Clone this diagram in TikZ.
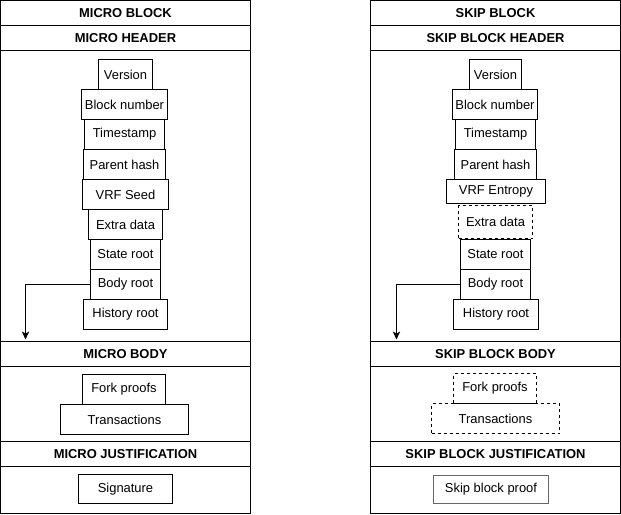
\documentclass[tikz,border=0pt]{standalone}
\usepackage{fontspec}
\setmainfont{Liberation Sans}
\usetikzlibrary{arrows.meta}
\newcommand\pxu{0.75pt}

\begin{document}
\begin{tikzpicture}[x=0.75pt,y=-0.75pt,line width=0.75pt,
  font=\fontsize{9.7}{11}\selectfont,
  band/.style={draw,inner sep=0pt,minimum width=250*\pxu},
  bandtitle/.style={band,minimum height=25*\pxu,font=\fontsize{9.7}{11}\selectfont\bfseries},
  field/.style={draw,inner sep=0pt,minimum height=30*\pxu},
  optfield/.style={field,dash pattern=on 2.25pt off 2.25pt},
  arrow/.style={-{Stealth[length=6pt,width=5.5pt,inset=1.5pt]}}]
  \useasboundingbox (-0.5,-0.5) rectangle (620.5,513.5);

  % micro block
  \node[bandtitle] (mtitle) at (125,12.5) {MICRO BLOCK};
  \node[bandtitle] (mhead) at (125,37.5) {MICRO HEADER};
  \node[band,minimum height=291*\pxu] (mheadbox) at (125,195.5) {};
  \node[bandtitle] (mbody) at (125,353.5) {MICRO BODY};
  \node[band,minimum height=75*\pxu] (mbodybox) at (125,403.5) {};
  \node[bandtitle] (mjust) at (125,453.5) {MICRO JUSTIFICATION};
  \node[band,minimum height=47*\pxu] (mjustbox) at (125,489.5) {};

  \node[field,minimum width=54*\pxu] (mver) at (125,74) {Version};
  \node[field,minimum width=86*\pxu] (mnum) at (124,104) {Block number};
  \node[field,minimum width=80*\pxu] (mtime) at (124,134) {Timestamp};
  \node[field,minimum width=82*\pxu] (mparent) at (124,164) {Parent hash};
  \node[field,minimum width=86*\pxu] (mvrf) at (125,194) {VRF Seed};
  \node[field,minimum width=74*\pxu] (mextra) at (125,224) {Extra data};
  \node[field,minimum width=70*\pxu] (mstate) at (125,254) {State root};
  \node[field,minimum width=70*\pxu] (mbroot) at (125,284) {Body root};
  \node[field,minimum width=84*\pxu] (mhist) at (125,314) {History root};
  \coordinate (marr) at (25,339);
  \draw[arrow] (mbroot.west) -| (marr);

  \node[field,minimum width=83*\pxu] (mfork) at (123.5,389) {Fork proofs};
  \node[field,minimum width=128*\pxu] (mtx) at (124,419) {Transactions};
  \node[field,minimum width=94*\pxu,minimum height=29*\pxu] (msig) at (125,488.5) {Signature};

  % skip block
  \node[bandtitle] (stitle) at (495,12.5) {SKIP BLOCK};
  \node[bandtitle] (shead) at (495,37.5) {SKIP BLOCK HEADER};
  \node[band,minimum height=291*\pxu] (sheadbox) at (495,195.5) {};
  \node[bandtitle] (sbody) at (495,353.5) {SKIP BLOCK BODY};
  \node[band,minimum height=75*\pxu] (sbodybox) at (495,403.5) {};
  \node[bandtitle] (sjust) at (495,453.5) {SKIP BLOCK JUSTIFICATION};
  \node[band,minimum height=47*\pxu] (sjustbox) at (495,489.5) {};

  \node[field,minimum width=52*\pxu] (sver) at (495,74) {Version};
  \node[field,minimum width=85*\pxu] (snum) at (494.5,104) {Block number};
  \node[field,minimum width=80*\pxu] (stime) at (495,134) {Timestamp};
  \node[field,minimum width=82*\pxu] (sparent) at (495,164) {Parent hash};
  \node[field,minimum width=99*\pxu,minimum height=24*\pxu] (svrf) at (495.5,191) {VRF Entropy};
  \node[optfield,minimum width=74*\pxu,minimum height=33*\pxu] (sextra) at (495,221.5) {Extra data};
  \node[field,minimum width=70*\pxu] (sstate) at (495,254) {State root};
  \node[field,minimum width=70*\pxu] (sbroot) at (495,284) {Body root};
  \node[field,minimum width=85*\pxu] (shist) at (495.5,314) {History root};
  \coordinate (sarr) at (396,339);
  \draw[arrow] (sbroot.west) -| (sarr);

  \node[optfield,minimum width=83*\pxu] (sfork) at (494.5,388) {Fork proofs};
  \node[optfield,minimum width=128*\pxu] (stx) at (495,418) {Transactions};
  \node[field,draw=black!60,line width=1.2pt,minimum width=115*\pxu,minimum height=28*\pxu] (sproof) at (490.5,489) {Skip block proof};
\end{tikzpicture}
\end{document}
